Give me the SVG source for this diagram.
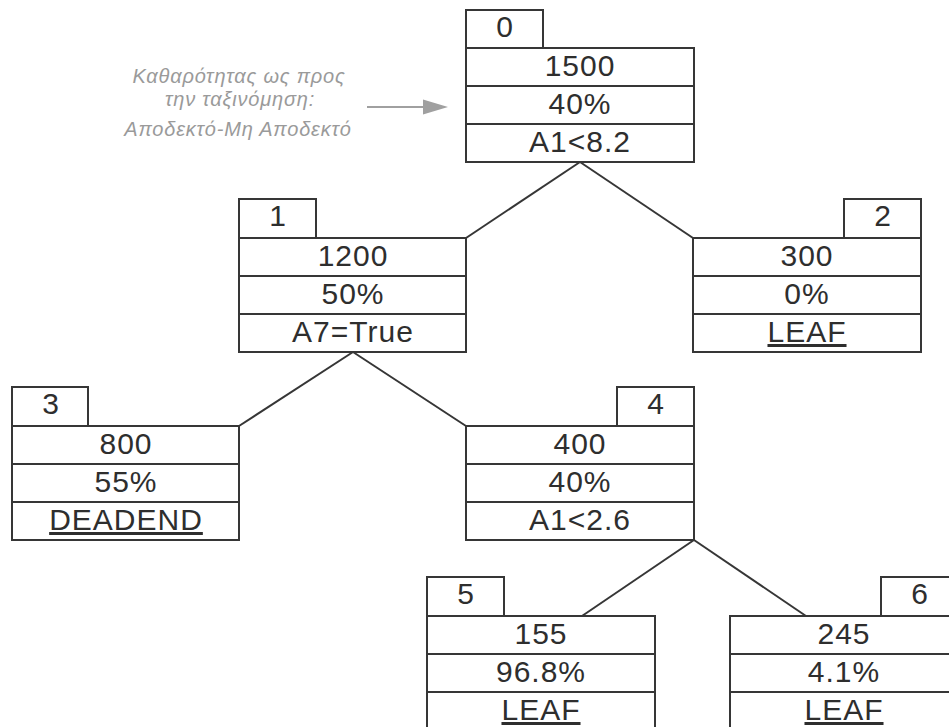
<svg xmlns="http://www.w3.org/2000/svg" width="949" height="727" viewBox="0 0 949 727">
<style>
.bx{fill:#fff;stroke:#363636;stroke-width:2}
.sep{stroke:#363636;stroke-width:2}
.t{font-family:"Liberation Sans",Arial,sans-serif;font-size:30px;fill:#2e2e2e;text-anchor:middle;letter-spacing:1px}
.u{text-decoration:underline}
.con line{stroke:#363636;stroke-width:2}
.note{font-family:"Liberation Sans",Arial,sans-serif;font-size:20px;font-style:italic;fill:#9a9a9a;text-anchor:middle;letter-spacing:0.8px}
</style>
<rect width="949" height="727" fill="#fff"/>
<g id="connectors" class="con">
<line x1="580" y1="162" x2="466" y2="238"/>
<line x1="580" y1="162" x2="693" y2="238"/>
<line x1="353" y1="352" x2="239" y2="426"/>
<line x1="353" y1="352" x2="466" y2="426"/>
<line x1="694" y1="540" x2="582" y2="616"/>
<line x1="694" y1="540" x2="806" y2="616"/>
</g>
<g id="annotation">
<text class="note" x="239" y="83">Καθαρότητας ως προς</text>
<text class="note" x="240" y="106">την ταξινόμηση:</text>
<text class="note" x="238" y="136">Αποδεκτό-Μη Αποδεκτό</text>
<line x1="367" y1="107" x2="425" y2="107" stroke="#a0a0a0" stroke-width="2"/>
<polygon points="423,99.5 448,107 423,114.5" fill="#a0a0a0"/>
</g>
<g id="node0">
<rect class="bx" x="466" y="10" width="77" height="38"/>
<rect class="bx" x="466" y="48" width="228" height="114"/>
<line class="sep" x1="466" y1="86" x2="694" y2="86"/>
<line class="sep" x1="466" y1="124" x2="694" y2="124"/>
<text class="t" x="505" y="37">0</text>
<text class="t" x="580" y="76">1500</text>
<text class="t" x="580" y="114">40%</text>
<text class="t" x="580" y="152">A1&lt;8.2</text>
</g>
<g id="node1">
<rect class="bx" x="239" y="199" width="77" height="39"/>
<rect class="bx" x="239" y="238" width="227" height="114"/>
<line class="sep" x1="239" y1="276" x2="466" y2="276"/>
<line class="sep" x1="239" y1="314" x2="466" y2="314"/>
<text class="t" x="278" y="226">1</text>
<text class="t" x="353" y="266">1200</text>
<text class="t" x="353" y="304">50%</text>
<text class="t" x="353" y="342">A7=True</text>
</g>
<g id="node2">
<rect class="bx" x="844" y="199" width="77" height="39"/>
<rect class="bx" x="693" y="238" width="228" height="114"/>
<line class="sep" x1="693" y1="276" x2="921" y2="276"/>
<line class="sep" x1="693" y1="314" x2="921" y2="314"/>
<text class="t" x="883" y="226">2</text>
<text class="t" x="807" y="266">300</text>
<text class="t" x="807" y="304">0%</text>
<text class="t u" x="807" y="342">LEAF</text>
</g>
<g id="node3">
<rect class="bx" x="12" y="387" width="76" height="39"/>
<rect class="bx" x="12" y="426" width="227" height="114"/>
<line class="sep" x1="12" y1="464" x2="239" y2="464"/>
<line class="sep" x1="12" y1="502" x2="239" y2="502"/>
<text class="t" x="51" y="414">3</text>
<text class="t" x="126" y="454">800</text>
<text class="t" x="126" y="492">55%</text>
<text class="t u" x="126" y="530">DEADEND</text>
</g>
<g id="node4">
<rect class="bx" x="617" y="387" width="77" height="39"/>
<rect class="bx" x="466" y="426" width="228" height="114"/>
<line class="sep" x1="466" y1="464" x2="694" y2="464"/>
<line class="sep" x1="466" y1="502" x2="694" y2="502"/>
<text class="t" x="656" y="414">4</text>
<text class="t" x="580" y="454">400</text>
<text class="t" x="580" y="492">40%</text>
<text class="t" x="580" y="530">A1&lt;2.6</text>
</g>
<g id="node5">
<rect class="bx" x="427" y="577" width="77" height="39"/>
<rect class="bx" x="427" y="616" width="228" height="114"/>
<line class="sep" x1="427" y1="654" x2="655" y2="654"/>
<line class="sep" x1="427" y1="692" x2="655" y2="692"/>
<text class="t" x="466" y="604">5</text>
<text class="t" x="541" y="644">155</text>
<text class="t" x="541" y="682">96.8%</text>
<text class="t u" x="541" y="720">LEAF</text>
</g>
<g id="node6">
<rect class="bx" x="881" y="577" width="77" height="39"/>
<rect class="bx" x="730" y="616" width="228" height="114"/>
<line class="sep" x1="730" y1="654" x2="958" y2="654"/>
<line class="sep" x1="730" y1="692" x2="958" y2="692"/>
<text class="t" x="920" y="604">6</text>
<text class="t" x="844" y="644">245</text>
<text class="t" x="844" y="682">4.1%</text>
<text class="t u" x="844" y="720">LEAF</text>
</g>
</svg>
